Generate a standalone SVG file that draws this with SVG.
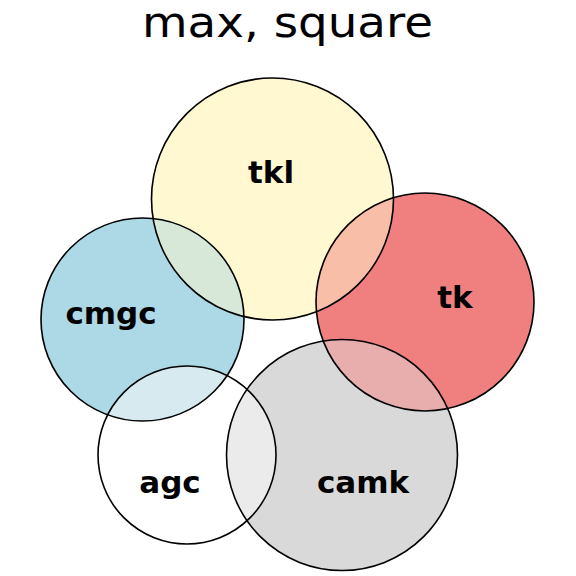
<svg xmlns="http://www.w3.org/2000/svg" width="576" height="576" viewBox="0 0 576 576">
<style>
.ring{fill:none;stroke:#000;stroke-width:1.6}
.lbl{font-family:"DejaVu Sans",sans-serif;font-weight:bold;font-size:31px;text-anchor:middle;fill:#000}
.title{font-family:"DejaVu Sans",sans-serif;font-size:43px;text-anchor:middle;fill:#000}
</style>
<defs>
<clipPath id="cTkl"><circle cx="272.5" cy="199" r="121"/></clipPath>
<clipPath id="cCmgc"><circle cx="142.5" cy="319.5" r="101.5"/></clipPath>
<clipPath id="cTk"><circle cx="425" cy="302" r="109"/></clipPath>
<clipPath id="cCamk"><circle cx="342" cy="455" r="115.5"/></clipPath>
<clipPath id="cAgc"><circle cx="187" cy="455" r="89"/></clipPath>
</defs>
<rect width="576" height="576" fill="#fff"/>
<text class="title" x="287.5" y="37" textLength="291" lengthAdjust="spacingAndGlyphs">max, square</text>
<g id="fills">
<circle cx="272.5" cy="199" r="121" fill="#FFF8D0"/>
<circle cx="142.5" cy="319.5" r="101.5" fill="#ADD8E6"/>
<circle cx="425" cy="302" r="109" fill="#F08080"/>
<circle cx="342" cy="455" r="115.5" fill="#D9D9D9"/>
<circle cx="187" cy="455" r="89" fill="#FFFFFF"/>
<circle cx="272.5" cy="199" r="121" fill="#D7E8D9" clip-path="url(#cCmgc)"/>
<circle cx="272.5" cy="199" r="121" fill="#F9BEA8" clip-path="url(#cTk)"/>
<circle cx="425" cy="302" r="109" fill="#E8AEAE" clip-path="url(#cCamk)"/>
<circle cx="187" cy="455" r="89" fill="#D6EAF0" clip-path="url(#cCmgc)"/>
<circle cx="187" cy="455" r="89" fill="#EBEBEB" clip-path="url(#cCamk)"/>
</g>
<g id="tkl"><circle class="ring" cx="272.5" cy="199" r="121"/><text class="lbl" x="271" y="183">tkl</text></g>
<g id="cmgc"><circle class="ring" cx="142.5" cy="319.5" r="101.5"/><text class="lbl" x="111" y="324">cmgc</text></g>
<g id="tk"><circle class="ring" cx="425" cy="302" r="109"/><text class="lbl" x="455" y="308">tk</text></g>
<g id="camk"><circle class="ring" cx="342" cy="455" r="115.5"/><text class="lbl" x="363" y="493">camk</text></g>
<g id="agc"><circle class="ring" cx="187" cy="455" r="89"/><text class="lbl" x="170" y="493">agc</text></g>
</svg>
